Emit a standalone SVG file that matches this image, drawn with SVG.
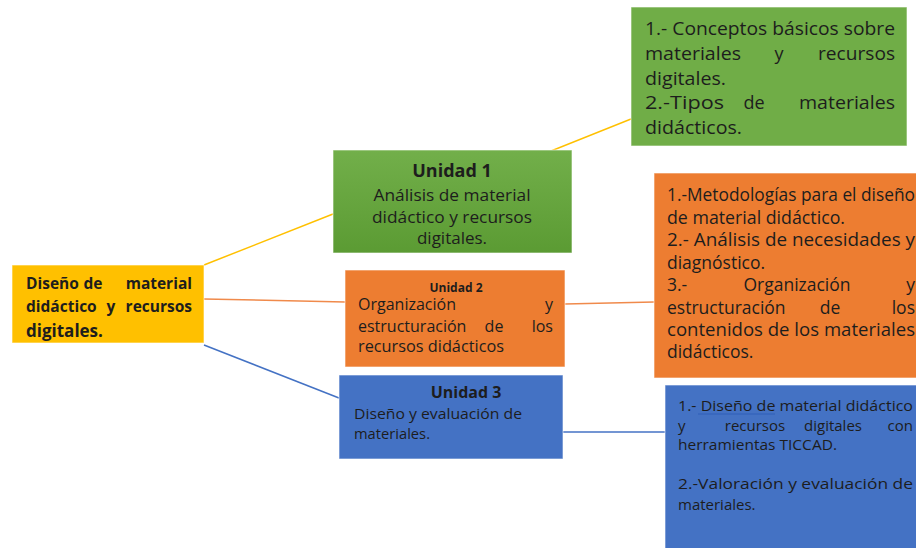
<svg xmlns="http://www.w3.org/2000/svg" width="916" height="548" viewBox="0 0 916 548">
<defs>
<linearGradient id="g1" x1="0" y1="0" x2="0" y2="1">
<stop offset="0" stop-color="#72AF4A"/>
<stop offset="1" stop-color="#5B9B33"/>
</linearGradient>
<style>
.t{font-family:"Open Sans","Liberation Sans",sans-serif;fill:#1d1d1d}
.b{font-weight:bold}
.m{font-size:15.5px}
.u{font-size:16px}
.d1{font-size:18px}
.d2{font-size:17.5px}
.d3{font-size:15px}
.c{text-anchor:middle}
.e{text-anchor:end}
.box{stroke:#ffffff;stroke-opacity:0.6;stroke-width:1}
</style>
</defs>
<rect width="916" height="548" fill="#ffffff"/>
<g id="connectors" fill="none" stroke-width="1.5">
<line x1="204" y1="265" x2="333" y2="214" stroke="#FFC000"/>
<line x1="551" y1="151" x2="631" y2="119" stroke="#FFC000"/>
<line x1="204" y1="299" x2="345" y2="302" stroke="#F08A4B"/>
<line x1="565" y1="304" x2="654" y2="302" stroke="#F08A4B"/>
<line x1="204" y1="345" x2="339" y2="398" stroke="#4472C4"/>
<line x1="563" y1="432" x2="665" y2="432" stroke="#4472C4"/>
</g>
<g id="main">
<rect class="box" x="12" y="265" width="192" height="78" fill="#FFC000"/>
<text class="t b m" y="289"><tspan x="26">Diseño</tspan><tspan x="93" text-anchor="middle">de</tspan><tspan x="192" text-anchor="end">material</tspan></text>
<text class="t b m" y="312"><tspan x="26">didáctico</tspan><tspan x="111" text-anchor="middle">y</tspan><tspan x="192" text-anchor="end">recursos</tspan></text>
<text class="t b" x="26" y="337" font-size="17">digitales.</text>
</g>
<g id="unidad1">
<rect class="box" x="333" y="150" width="239" height="103" fill="url(#g1)"/>
<text class="t b c" x="452" y="177" font-size="18">Unidad 1</text>
<text class="t c" x="452" y="201" font-size="17" textLength="157" lengthAdjust="spacingAndGlyphs">Análisis de material</text>
<text class="t c" x="452" y="223" font-size="17" textLength="160" lengthAdjust="spacingAndGlyphs">didáctico y recursos</text>
<text class="t c" x="452" y="244" font-size="17">digitales.</text>
</g>
<g id="unidad2">
<rect class="box" x="345" y="270" width="220" height="97" fill="#ED7D31"/>
<text class="t b c" x="456" y="292" font-size="12">Unidad 2</text>
<text class="t u" y="310"><tspan x="358">Organización</tspan><tspan x="553" text-anchor="end">y</tspan></text>
<text class="t u" y="332"><tspan x="358">estructuración</tspan><tspan x="494" text-anchor="middle">de</tspan><tspan x="553" text-anchor="end">los</tspan></text>
<text class="t u" x="358" y="352" textLength="146" lengthAdjust="spacingAndGlyphs">recursos didácticos</text>
</g>
<g id="unidad3">
<rect class="box" x="339" y="375" width="224" height="84" fill="#4472C4"/>
<text class="t b c" x="466" y="398" font-size="16">Unidad 3</text>
<text class="t" x="354" y="419" font-size="14.5" textLength="168" lengthAdjust="spacingAndGlyphs">Diseño y evaluación de</text>
<text class="t" x="354" y="439" font-size="14.5" textLength="76" lengthAdjust="spacingAndGlyphs">materiales.</text>
</g>
<g id="detalle1">
<rect class="box" x="631" y="7" width="276" height="139" fill="#70AD47"/>
<text class="t d1" x="645" y="35" textLength="250" lengthAdjust="spacingAndGlyphs">1.- Conceptos básicos sobre</text>
<text class="t d1" x="645" y="60" textLength="96" lengthAdjust="spacingAndGlyphs">materiales</text>
<text class="t d1 c" x="779" y="60">y</text>
<text class="t d1" x="818" y="60" textLength="77" lengthAdjust="spacingAndGlyphs">recursos</text>
<text class="t d1" x="645" y="85" textLength="81" lengthAdjust="spacingAndGlyphs">digitales.</text>
<text class="t d1" x="645" y="109" textLength="79" lengthAdjust="spacingAndGlyphs">2.-Tipos</text>
<text class="t d1 c" x="754" y="109">de</text>
<text class="t d1" x="799" y="109" textLength="96" lengthAdjust="spacingAndGlyphs">materiales</text>
<text class="t d1" x="645" y="134" textLength="97" lengthAdjust="spacingAndGlyphs">didácticos.</text>
</g>
<g id="detalle2">
<rect class="box" x="654" y="173" width="270" height="205" fill="#ED7D31"/>
<text class="t d2" x="667" y="201" textLength="248" lengthAdjust="spacingAndGlyphs">1.-Metodologías para el diseño</text>
<text class="t d2" x="667" y="224" textLength="178" lengthAdjust="spacingAndGlyphs">de material didáctico.</text>
<text class="t d2" x="667" y="246" textLength="248" lengthAdjust="spacingAndGlyphs">2.- Análisis de necesidades y</text>
<text class="t d2" x="667" y="269">diagnóstico.</text>
<text class="t d2" y="291"><tspan x="667">3.-</tspan><tspan x="797" text-anchor="middle">Organización</tspan><tspan x="915" text-anchor="end">y</tspan></text>
<text class="t d2" y="314"><tspan x="667">estructuración</tspan><tspan x="830" text-anchor="middle">de</tspan><tspan x="915" text-anchor="end">los</tspan></text>
<text class="t d2" x="667" y="336" textLength="248" lengthAdjust="spacingAndGlyphs">contenidos de los materiales</text>
<text class="t d2" x="667" y="358">didácticos.</text>
</g>
<g id="detalle3">
<rect class="box" x="665" y="385" width="260" height="170" fill="#4472C4"/>
<text class="t d3" x="678" y="411" textLength="235" lengthAdjust="spacingAndGlyphs">1.- Diseño de material didáctico</text>
<line x1="698" y1="414" x2="775" y2="414" stroke="#2E5FB8" stroke-width="1.2"/>
<text class="t d3" y="431"><tspan x="678">y</tspan><tspan x="755" text-anchor="middle">recursos</tspan><tspan x="833" text-anchor="middle">digitales</tspan><tspan x="913" text-anchor="end">con</tspan></text>
<text class="t d3" x="678" y="450" textLength="159" lengthAdjust="spacingAndGlyphs">herramientas TICCAD.</text>
<text class="t d3" x="678" y="489" textLength="235" lengthAdjust="spacingAndGlyphs">2.-Valoración y evaluación de</text>
<text class="t d3" x="678" y="510">materiales.</text>
</g>
</svg>
